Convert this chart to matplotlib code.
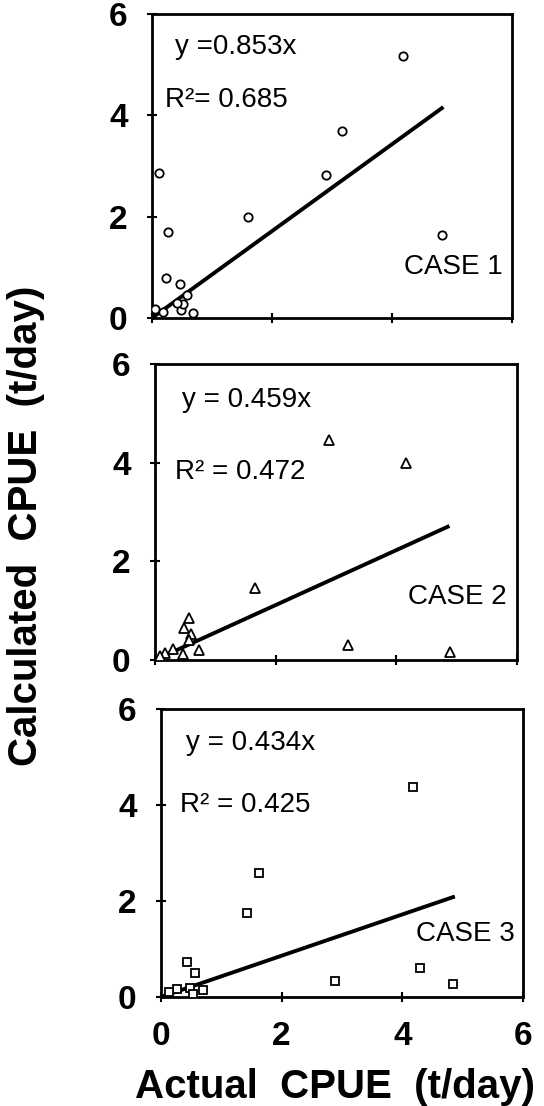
import matplotlib
matplotlib.use("Agg")
import matplotlib.pyplot as plt

plt.rcParams['font.family'] = ['Liberation Sans', 'DejaVu Sans']

# case 1 (circles)
x1 = [0.12, 0.26, 0.23, 0.47, 1.60, 2.90, 3.16, 4.19, 4.84,
      0.05, 0.19, 0.49, 0.52, 0.41, 0.58, 0.68]
y1 = [2.86, 1.70, 0.79, 0.68, 2.00, 2.82, 3.69, 5.17, 1.64,
      0.18, 0.11, 0.16, 0.28, 0.30, 0.45, 0.10]
fit1_x = [0, 4.83]
fit1_y = [0, 4.14]

# case 2 (triangles)
x2 = [2.89, 4.16, 1.66, 3.20, 4.89, 0.56, 0.48, 0.59, 0.57, 0.73,
      0.46, 0.29, 0.17, 0.08]
y2 = [4.46, 3.99, 1.45, 0.30, 0.17, 0.85, 0.64, 0.52, 0.41, 0.20,
      0.12, 0.22, 0.14, 0.08]
fit2_x = [0, 4.85]
fit2_y = [0, 2.70]

# case 3 (squares)
x3 = [4.18, 1.62, 1.43, 0.43, 0.57, 0.70, 0.48, 0.53, 0.26, 0.14,
      2.88, 4.30, 4.84]
y3 = [4.38, 2.59, 1.75, 0.73, 0.49, 0.15, 0.19, 0.06, 0.16, 0.10,
      0.33, 0.60, 0.28]
fit3_x = [0, 4.84]
fit3_y = [0, 2.08]

eq_text = ['y =0.853x', 'y = 0.459x', 'y = 0.434x']
r2_text = ['R²= 0.685', 'R² = 0.472', 'R² = 0.425']
case_text = ['CASE 1', 'CASE 2', 'CASE 3']
ticks = [0, 2, 4, 6]

fig = plt.figure(figsize=(5.44, 11.06), dpi=100)
rects = [[0.2794, 0.7125, 0.6618, 0.2749],
         [0.2850, 0.4033, 0.6654, 0.2676],
         [0.2960, 0.0986, 0.6654, 0.2604]]
xs = [x1, x2, x3]
ys = [y1, y2, y3]
fxs = [fit1_x, fit2_x, fit3_x]
fys = [fit1_y, fit2_y, fit3_y]
markers = ['o', '^', 's']
msizes = [6, 6.5, 6]
eq_pos = [(0.38, 5.35), (0.44, 5.27), (0.42, 5.30)]
r2_pos = [(0.22, 4.30), (0.33, 3.82), (0.31, 4.00)]
case_pos = [(5.85, 1.00), (5.83, 1.28), (5.86, 1.32)]

for i in range(3):
    ax = fig.add_axes(rects[i])
    ax.plot(xs[i], ys[i], linestyle='none', marker=markers[i],
            markersize=msizes[i], markerfacecolor='white',
            markeredgecolor='black', markeredgewidth=1.3, zorder=3)
    ax.plot(fxs[i], fys[i], color='black', linewidth=2.8, zorder=2)
    ax.set_xlim(0, 6)
    ax.set_ylim(0, 6)
    ax.set_xticks(ticks)
    ax.set_yticks(ticks)
    ax.tick_params(direction='inout', length=7, width=1.5, labelsize=24)
    ax.tick_params(axis='y', pad=14)
    ax.tick_params(axis='x', pad=14)
    for lab in ax.get_yticklabels() + ax.get_xticklabels():
        lab.set_fontweight('bold')
    if i < 2:
        ax.set_xticklabels([])
    for sp in ax.spines.values():
        sp.set_linewidth(2)
    ax.text(eq_pos[i][0], eq_pos[i][1], eq_text[i], fontsize=20,
            va='center', ha='left')
    ax.text(r2_pos[i][0], r2_pos[i][1], r2_text[i], fontsize=20,
            va='center', ha='left')
    ax.text(case_pos[i][0], case_pos[i][1], case_text[i], fontsize=20,
            va='center', ha='right')

fig.text(0.048, 0.525, 'Calculated  CPUE  (t/day)', rotation=90,
         fontsize=29, fontweight='bold', ha='center', va='center')
fig.text(0.615, 0.017, 'Actual  CPUE  (t/day)', fontsize=29,
         fontweight='bold', ha='center', va='center')

fig.savefig('out.png', dpi=100)
